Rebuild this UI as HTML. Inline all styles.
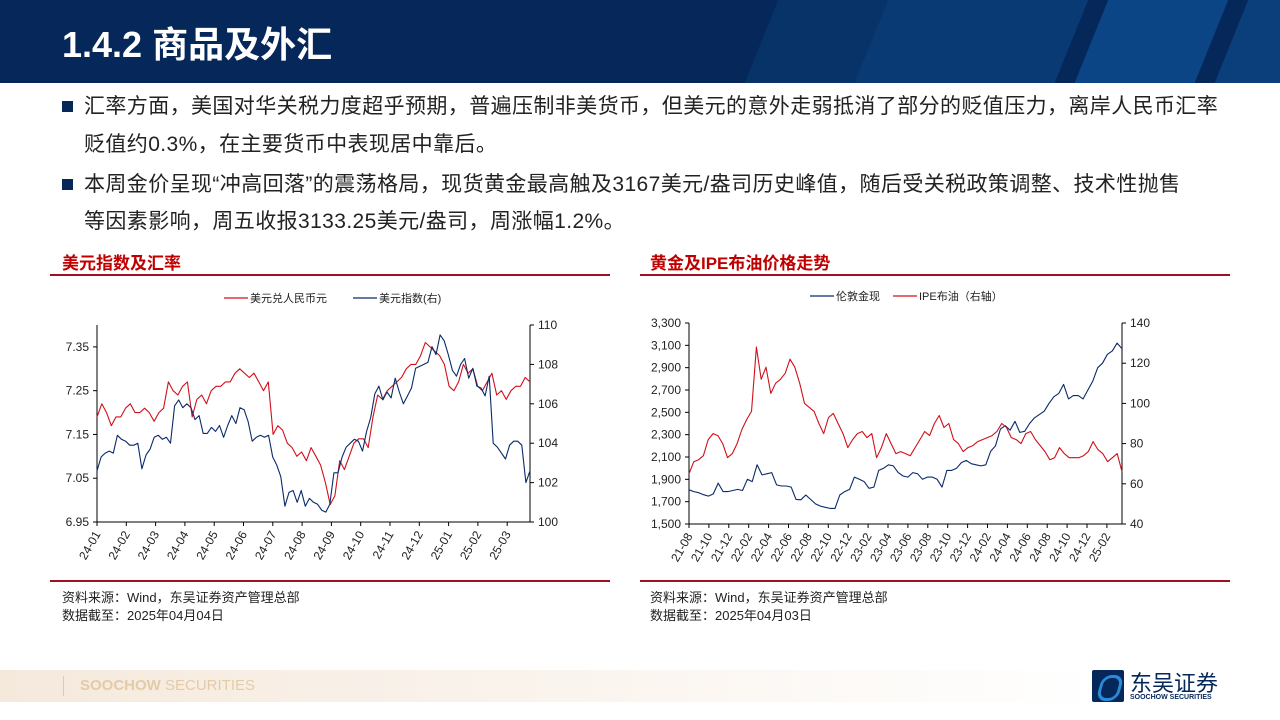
<!DOCTYPE html>
<html><head><meta charset="utf-8">
<style>
body{margin:0;width:1280px;height:720px;overflow:hidden;background:#fff;font-family:"Liberation Sans","Noto Sans CJK SC",sans-serif;position:relative}
#hdr{position:absolute;left:0;top:0;width:1280px;height:83px;background:#05275a;overflow:hidden}
#hdr .s{position:absolute;top:-10px;height:110px;transform:skewX(-22deg);}
#title{position:absolute;left:62px;top:16px;color:#fff;font-size:36px;font-weight:bold;font-family:"Liberation Sans","Noto Sans CJK SC",sans-serif}
.b{position:absolute;left:62px;font-size:21px;letter-spacing:0.4px;color:#222;line-height:38px}
.b .sq{position:absolute;left:0;top:13px;width:11px;height:11px;background:#05275a}
.b span.t{position:absolute;left:22px;white-space:nowrap}
.sec{position:absolute;font-size:17px;font-weight:bold;color:#c00000;white-space:nowrap}
.rl{position:absolute;height:2px;background:#a01020}
.src{position:absolute;font-size:13px;color:#222;white-space:nowrap}
#foot{position:absolute;left:0;top:670px;width:1100px;height:32px;background:linear-gradient(90deg,#f5e9dc,#fbf6f1 60%,#fff)}
</style></head><body>
<div id="hdr">
<div class="s" style="left:760px;width:260px;background:#083368"></div>
<div class="s" style="left:870px;width:200px;background:#0a3a74"></div>
<div class="s" style="left:1090px;width:120px;background:#0c4585"></div>
<div class="s" style="left:1230px;width:120px;background:#0a3f7c"></div>
<div id="title">1.4.2 商品及外汇</div>
</div>
<div class="b" style="top:88px"><div class="sq"></div><span class="t">汇率方面，美国对华关税力度超乎预期，普遍压制非美货币，但美元的意外走弱抵消了部分的贬值压力，离岸人民币汇率</span><span class="t" style="top:38px">贬值约0.3%，在主要货币中表现居中靠后。</span></div>
<div class="b" style="top:166px"><div class="sq"></div><span class="t">本周金价呈现“冲高回落”的震荡格局，现货黄金最高触及3167美元/盎司历史峰值，随后受关税政策调整、技术性抛售</span><span class="t" style="top:37px">等因素影响，周五收报3133.25美元/盎司，周涨幅1.2%。</span></div>
<div class="sec" style="left:62px;top:249px">美元指数及汇率</div>
<div class="rl" style="left:50px;top:274px;width:560px"></div>
<div class="sec" style="left:650px;top:249px">黄金及IPE布油价格走势</div>
<div class="rl" style="left:640px;top:274px;width:590px"></div>
<div class="rl" style="left:50px;top:580px;width:560px"></div>
<div class="rl" style="left:640px;top:580px;width:590px"></div>
<div class="src" style="left:62px;top:587px">资料来源：Wind，东吴证券资产管理总部</div>
<div class="src" style="left:62px;top:605px">数据截至：2025年04月04日</div>
<div class="src" style="left:650px;top:587px">资料来源：Wind，东吴证券资产管理总部</div>
<div class="src" style="left:650px;top:605px">数据截至：2025年04月03日</div>
<div id="foot">
<div style="position:absolute;left:63px;top:6px;width:1px;height:20px;background:#e0c8a8"></div>
<div style="position:absolute;left:80px;top:7px;font-size:15px;color:#e3cba8;white-space:nowrap"><b>SOOCHOW</b> SECURITIES</div>
</div>
<div style="position:absolute;left:1092px;top:668px;width:160px;height:36px">
<div style="position:absolute;left:0;top:2px;width:32px;height:32px;background:#05275a;border-radius:2px"><div style="position:absolute;left:7px;top:5px;width:16px;height:20px;border:3px solid #2a8ad8;border-radius:10px;transform:skewX(-15deg)"></div></div>
<div style="position:absolute;left:38px;top:-2px;font-size:22px;color:#05275a;white-space:nowrap">东吴证券</div>
<div style="position:absolute;left:38px;top:26px;font-size:7px;font-weight:bold;color:#05275a;white-space:nowrap">SOOCHOW SECURITIES</div>
</div>
<svg id="ch" width="1280" height="720" style="position:absolute;left:0;top:0" xmlns="http://www.w3.org/2000/svg"></svg>
<script>
// ---- left chart data ----
const leftMonths=["24-01","24-02","24-03","24-04","24-05","24-06","24-07","24-08","24-09","24-10","24-11","24-12","25-01","25-02","25-03"];
const leftTicksL=[6.95,7.05,7.15,7.25,7.35];
const leftTicksR=[100,102,104,106,108,110];
const usdcny=[7.19,7.22,7.20,7.17,7.19,7.19,7.21,7.22,7.20,7.20,7.21,7.20,7.18,7.20,7.21,7.27,7.25,7.24,7.26,7.27,7.19,7.23,7.24,7.22,7.25,7.26,7.26,7.27,7.27,7.29,7.30,7.29,7.28,7.29,7.27,7.25,7.27,7.15,7.17,7.16,7.13,7.12,7.10,7.11,7.09,7.12,7.10,7.08,7.04,6.99,7.01,7.09,7.07,7.10,7.13,7.14,7.14,7.12,7.19,7.24,7.23,7.25,7.26,7.27,7.28,7.30,7.31,7.31,7.33,7.36,7.35,7.34,7.33,7.31,7.26,7.25,7.27,7.31,7.29,7.30,7.26,7.25,7.27,7.29,7.24,7.25,7.23,7.25,7.26,7.26,7.28,7.27];
const dxy=[102.6,103.3,103.5,103.6,103.5,104.4,104.2,104.1,103.9,103.9,104.0,102.7,103.4,103.7,104.3,104.4,104.2,104.3,104.0,105.9,106.2,105.8,106.0,105.8,105.2,105.4,104.5,104.5,104.8,104.6,104.9,104.3,104.9,105.4,105.0,105.8,105.7,105.1,104.1,104.3,104.4,104.3,104.4,103.3,102.9,102.3,100.8,101.5,101.6,101.0,101.6,100.8,101.2,101.0,100.9,100.6,100.5,100.9,102.5,102.5,103.3,103.8,104.0,104.2,104.1,103.6,104.6,105.3,106.5,106.9,106.2,106.6,106.3,107.3,106.6,106.0,106.4,106.8,107.8,107.9,108.0,108.1,108.9,108.5,109.5,109.2,108.5,107.7,107.4,108.0,108.3,107.3,107.8,106.9,106.8,106.4,107.4,104.0,103.8,103.5,103.2,103.9,104.1,104.1,103.9,102.0,102.6];
// ---- right chart data ----
const rightMonths=["21-08","21-10","21-12","22-02","22-04","22-06","22-08","22-10","22-12","23-02","23-04","23-06","23-08","23-10","23-12","24-02","24-04","24-06","24-08","24-10","24-12","25-02"];
const rightTicksL=[1500,1700,1900,2100,2300,2500,2700,2900,3100,3300];
const rightTicksR=[40,60,80,100,120,140];
const gold=[1806,1790,1780,1762,1750,1770,1866,1790,1790,1800,1810,1800,1900,1880,2030,1940,1950,1960,1850,1840,1840,1830,1720,1717,1760,1720,1680,1660,1650,1640,1640,1760,1790,1810,1920,1900,1880,1820,1830,1980,2000,2030,2020,1960,1930,1920,1960,1950,1900,1920,1920,1900,1830,1980,1980,2000,2050,2070,2040,2030,2020,2030,2150,2200,2350,2380,2340,2420,2320,2330,2400,2450,2480,2510,2580,2640,2670,2750,2620,2650,2650,2620,2700,2780,2900,2940,3020,3050,3120,3070];
const brent=[65,71,72,74,82,85,84,80,73,75,80,87,92,96,128,112,118,105,110,112,115,122,118,110,100,98,96,90,85,93,95,90,85,78,82,85,86,83,85,73,78,85,80,75,76,75,74,78,82,86,84,90,94,88,90,82,80,76,78,79,81,82,83,84,86,90,88,83,82,80,85,86,82,79,76,72,73,78,75,73,73,73,74,76,81,77,75,71,73,75,66];

const svg=document.getElementById('ch');
const NS='http://www.w3.org/2000/svg';
function mk(tag,attrs,parent){const e=document.createElementNS(NS,tag);for(const k in attrs)e.setAttribute(k,attrs[k]);(parent||svg).appendChild(e);return e;}
function txt(x,y,s,anchor,parent,rot){const t=mk('text',{x:x,y:y,'font-size':12,fill:'#222','text-anchor':anchor||'start','font-family':'Liberation Sans, Noto Sans CJK SC, sans-serif'},parent);if(rot)t.setAttribute('transform','rotate('+rot+' '+x+' '+y+')');t.textContent=s;return t;}

function chart(cfg){
  const g=mk('g',{});
  
  
  const yL=v=>cfg.y1-(v-cfg.lmin)/(cfg.lmax-cfg.lmin)*(cfg.y1-cfg.y0);
  const yR=v=>cfg.y1-(v-cfg.rmin)/(cfg.rmax-cfg.rmin)*(cfg.y1-cfg.y0);
  const ax=mk('path',{d:`M${cfg.x0},${cfg.y0}V${cfg.y1}H${cfg.x1}V${cfg.y0}`,stroke:'#000',fill:'none','stroke-width':1},g);
  
  
  cfg.tl.forEach(v=>{const y=yL(v);mk('line',{x1:cfg.x0-4,x2:cfg.x0,y1:y,y2:y,stroke:'#000'},g);const t=txt(cfg.x0-8,y+4,cfg.fmtL(v),'end',g);});
  cfg.tr.forEach(v=>{const y=yR(v);mk('line',{x1:cfg.x1,x2:cfg.x1+4,y1:y,y2:y,stroke:'#000'},g);const t=txt(cfg.x1+8,y+4,String(v),'start',g);});
  cfg.months.forEach((m,i)=>{const x=cfg.x0+i*cfg.tickStep;mk('line',{x1:x,x2:x,y1:cfg.y1,y2:cfg.y1+4,stroke:'#000'},g);const t=txt(x+4,cfg.y1+12,m,'end',g,-60);});
  cfg.series.forEach(s=>{
    const n=s.data.length;
    const pts=s.data.map((v,i)=>{const x=cfg.x0+i/(n-1)*(cfg.x1-cfg.x0);const y=s.axis==='L'?yL(v):yR(v);return x.toFixed(1)+','+y.toFixed(1);});
    const p=mk('polyline',{points:pts.join(' '),fill:'none',stroke:s.color,'stroke-width':1.1,'stroke-linejoin':'round'},g);
    
    
  });
  cfg.legend.forEach(l=>{
    const lg=mk('g',{},g);
    
    
    mk('line',{x1:l.x,x2:l.x+24,y1:cfg.legY,y2:cfg.legY,stroke:l.color,'stroke-width':1.3},lg);
    const t=txt(l.x+26,cfg.legY+4,l.text,'start',lg);t.setAttribute('font-size',11);
  });
}
chart({name:'usd-index-fx-chart',x0:97,x1:530,y0:325,y1:522,lmin:6.95,lmax:7.40,rmin:100,rmax:110,
  tl:leftTicksL,tr:leftTicksR,fmtL:v=>v.toFixed(2),months:leftMonths,tickStep:29.3,
  series:[{name:'usdcny-line',data:usdcny,axis:'L',color:'#d0101a'},{name:'dxy-line',data:dxy,axis:'R',color:'#0a2a6a'}],
  legY:298,legend:[{x:224,text:'美元兑人民币元',color:'#d0101a'},{x:353,text:'美元指数(右)',color:'#0a2a6a'}]});
chart({name:'gold-brent-chart',x0:689,x1:1122,y0:323,y1:524,lmin:1500,lmax:3300,rmin:40,rmax:140,
  tl:rightTicksL,tr:rightTicksR,fmtL:v=>v.toLocaleString('en-US'),months:rightMonths,tickStep:19.9,
  series:[{name:'gold-spot-line',data:gold,axis:'L',color:'#0a2a6a'},{name:'brent-line',data:brent,axis:'R',color:'#d0101a'}],
  legY:296,legend:[{x:810,text:'伦敦金现',color:'#0a2a6a'},{x:893,text:'IPE布油（右轴）',color:'#d0101a'}]});
</script>
</body></html>
